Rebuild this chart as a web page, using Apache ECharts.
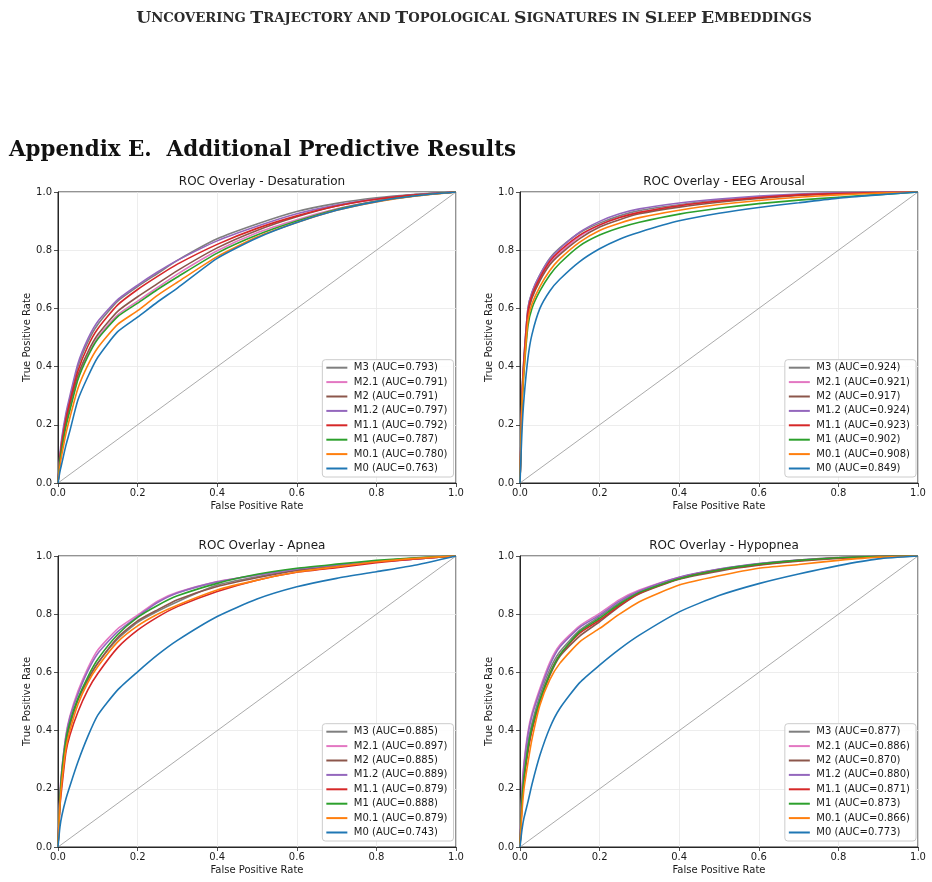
<!DOCTYPE html>
<html>
<head>
<meta charset="utf-8">
<script src="https://cdn.jsdelivr.net/npm/echarts@6/dist/echarts.min.js"></script>
<style>
html,body{margin:0;padding:0;background:#fff;}
#chart{width:932px;height:882px;}
</style>
</head>
<body>
<div id="chart"></div>
<script>
// ---------- DATA ----------
const headerText = 'Uncovering Trajectory and Topological Signatures in Sleep Embeddings';
const sectionText = 'Appendix E.  Additional Predictive Results';
const panelTitles = ['ROC Overlay - Desaturation', 'ROC Overlay - EEG Arousal', 'ROC Overlay - Apnea', 'ROC Overlay - Hypopnea'];
const models = ['M3', 'M2.1', 'M2', 'M1.2', 'M1.1', 'M1', 'M0.1', 'M0'];
const axisTicks = [0, 0.2, 0.4, 0.6, 0.8, 1.0];
const xLabel = 'False Positive Rate';
const yLabel = 'True Positive Rate';

// shared false-positive-rate grid for the read-off curves
const fpr = [0, 0.005, 0.01, 0.02, 0.03, 0.05, 0.075, 0.1, 0.15, 0.2, 0.25, 0.3, 0.4, 0.5, 0.6, 0.7, 0.8, 0.9, 1.0];

// AUC values per panel (model order as in `models`)
const aucDesat = [0.793, 0.791, 0.791, 0.797, 0.792, 0.787, 0.780, 0.763];
const aucEEG   = [0.924, 0.921, 0.917, 0.924, 0.923, 0.902, 0.908, 0.849];
const aucApnea = [0.885, 0.897, 0.885, 0.889, 0.879, 0.888, 0.879, 0.743];
const aucHypo  = [0.877, 0.886, 0.870, 0.880, 0.871, 0.873, 0.866, 0.773];

// TPR values per model (rows in `models` order) at `fpr`
const tprDesat = [
  [0, 0.09, 0.15, 0.23, 0.29, 0.40, 0.485, 0.545, 0.625, 0.675, 0.72, 0.765, 0.839, 0.89, 0.933, 0.961, 0.98, 0.992, 1],   // M3
  [0, 0.08, 0.13, 0.20, 0.26, 0.36, 0.44, 0.50, 0.578, 0.625, 0.672, 0.718, 0.798, 0.86, 0.905, 0.942, 0.97, 0.988, 1],    // M2.1
  [0, 0.08, 0.13, 0.21, 0.27, 0.37, 0.45, 0.51, 0.59, 0.64, 0.685, 0.73, 0.808, 0.868, 0.915, 0.952, 0.976, 0.991, 1],     // M2
  [0, 0.10, 0.16, 0.24, 0.30, 0.41, 0.495, 0.555, 0.63, 0.68, 0.725, 0.765, 0.832, 0.882, 0.925, 0.955, 0.976, 0.991, 1],  // M1.2
  [0, 0.09, 0.14, 0.22, 0.28, 0.385, 0.47, 0.53, 0.612, 0.665, 0.71, 0.752, 0.82, 0.875, 0.918, 0.952, 0.975, 0.99, 1],    // M1.1
  [0, 0.08, 0.12, 0.195, 0.25, 0.355, 0.435, 0.495, 0.572, 0.618, 0.665, 0.708, 0.79, 0.852, 0.90, 0.94, 0.968, 0.987, 1], // M1
  [0, 0.06, 0.10, 0.17, 0.225, 0.325, 0.405, 0.465, 0.545, 0.592, 0.645, 0.69, 0.778, 0.845, 0.895, 0.937, 0.966, 0.986, 1], // M0.1
  [0, 0.04, 0.07, 0.13, 0.18, 0.285, 0.365, 0.432, 0.52, 0.57, 0.622, 0.67, 0.772, 0.842, 0.895, 0.937, 0.967, 0.987, 1]   // M0
];
const tprEEG = [
  [0, 0.30, 0.43, 0.60, 0.655, 0.715, 0.772, 0.808, 0.86, 0.893, 0.918, 0.936, 0.956, 0.972, 0.983, 0.991, 0.996, 0.999, 1], // M3
  [0, 0.28, 0.41, 0.58, 0.64, 0.70, 0.755, 0.79, 0.848, 0.886, 0.912, 0.93, 0.953, 0.969, 0.981, 0.99, 0.995, 0.998, 1],     // M2.1
  [0, 0.28, 0.41, 0.58, 0.635, 0.695, 0.75, 0.785, 0.84, 0.88, 0.905, 0.925, 0.948, 0.965, 0.978, 0.988, 0.994, 0.998, 1],   // M2
  [0, 0.30, 0.43, 0.60, 0.655, 0.715, 0.77, 0.805, 0.862, 0.899, 0.925, 0.942, 0.962, 0.976, 0.986, 0.993, 0.997, 0.999, 1], // M1.2
  [0, 0.29, 0.42, 0.59, 0.645, 0.705, 0.762, 0.798, 0.852, 0.887, 0.912, 0.93, 0.953, 0.969, 0.981, 0.99, 0.995, 0.998, 1],  // M1.1
  [0, 0.26, 0.38, 0.54, 0.60, 0.66, 0.715, 0.755, 0.815, 0.852, 0.877, 0.896, 0.924, 0.944, 0.96, 0.972, 0.982, 0.991, 1],   // M1
  [0, 0.27, 0.39, 0.56, 0.615, 0.675, 0.73, 0.77, 0.828, 0.868, 0.893, 0.912, 0.937, 0.957, 0.971, 0.982, 0.99, 0.996, 1],   // M0.1
  [0, 0.18, 0.29, 0.43, 0.51, 0.60, 0.66, 0.70, 0.761, 0.805, 0.838, 0.862, 0.901, 0.927, 0.947, 0.963, 0.979, 0.99, 1]     // M0
];
const tprApnea = [
  [0, 0.17, 0.25, 0.36, 0.42, 0.505, 0.575, 0.632, 0.715, 0.772, 0.81, 0.843, 0.90, 0.929, 0.952, 0.966, 0.98, 0.99, 1],    // M3
  [0, 0.18, 0.27, 0.385, 0.45, 0.535, 0.615, 0.677, 0.75, 0.797, 0.845, 0.875, 0.912, 0.935, 0.955, 0.968, 0.98, 0.99, 1],  // M2.1
  [0, 0.17, 0.25, 0.36, 0.42, 0.505, 0.575, 0.632, 0.72, 0.777, 0.815, 0.85, 0.895, 0.925, 0.95, 0.967, 0.982, 0.993, 1],   // M2
  [0, 0.18, 0.27, 0.38, 0.445, 0.525, 0.605, 0.665, 0.74, 0.792, 0.84, 0.873, 0.911, 0.935, 0.955, 0.968, 0.98, 0.99, 1],   // M1.2
  [0, 0.14, 0.21, 0.327, 0.385, 0.464, 0.54, 0.596, 0.685, 0.745, 0.79, 0.826, 0.878, 0.917, 0.944, 0.96, 0.977, 0.99, 1],  // M1.1
  [0, 0.17, 0.26, 0.37, 0.43, 0.51, 0.585, 0.645, 0.73, 0.789, 0.83, 0.863, 0.906, 0.937, 0.958, 0.972, 0.985, 0.994, 1],   // M1
  [0, 0.15, 0.23, 0.34, 0.40, 0.49, 0.565, 0.62, 0.705, 0.76, 0.80, 0.831, 0.883, 0.917, 0.945, 0.963, 0.98, 0.992, 1],     // M0.1
  [0, 0.07, 0.11, 0.166, 0.21, 0.292, 0.38, 0.453, 0.54, 0.602, 0.66, 0.71, 0.792, 0.852, 0.894, 0.923, 0.946, 0.969, 1]    // M0
];
const tprHypo = [
  [0, 0.18, 0.26, 0.36, 0.425, 0.52, 0.61, 0.671, 0.745, 0.792, 0.84, 0.878, 0.925, 0.954, 0.973, 0.986, 0.995, 0.999, 1],  // M3
  [0, 0.20, 0.29, 0.396, 0.46, 0.545, 0.635, 0.694, 0.76, 0.803, 0.85, 0.883, 0.927, 0.953, 0.972, 0.985, 0.994, 0.999, 1], // M2.1
  [0, 0.16, 0.24, 0.335, 0.405, 0.50, 0.59, 0.655, 0.725, 0.774, 0.827, 0.87, 0.92, 0.948, 0.968, 0.982, 0.992, 0.998, 1],  // M2
  [0, 0.19, 0.28, 0.385, 0.45, 0.535, 0.625, 0.687, 0.755, 0.797, 0.845, 0.88, 0.927, 0.955, 0.974, 0.986, 0.994, 0.999, 1],// M1.2
  [0, 0.15, 0.23, 0.327, 0.40, 0.50, 0.595, 0.66, 0.735, 0.78, 0.83, 0.872, 0.922, 0.952, 0.97, 0.984, 0.993, 0.998, 1],    // M1.1
  [0, 0.16, 0.24, 0.34, 0.41, 0.505, 0.595, 0.66, 0.74, 0.786, 0.835, 0.875, 0.922, 0.952, 0.972, 0.985, 0.994, 0.999, 1],  // M1
  [0, 0.12, 0.20, 0.29, 0.37, 0.487, 0.575, 0.631, 0.705, 0.751, 0.80, 0.843, 0.90, 0.932, 0.958, 0.971, 0.985, 0.996, 1],  // M0.1
  [0, 0.06, 0.10, 0.155, 0.215, 0.315, 0.41, 0.476, 0.565, 0.625, 0.68, 0.728, 0.808, 0.864, 0.905, 0.938, 0.967, 0.99, 1]  // M0
];
const diagonal = [[0, 0], [1, 1]];

// ---------- STYLE ----------
const modelColors = ['#7f7f7f', '#e377c2', '#8c564b', '#9467bd', '#d62728', '#2ca02c', '#ff7f0e', '#1f77b4'];
const FONT = 'DejaVu Sans';
const TXT = '#1a1a1a';
const panels = [
  {auc: aucDesat, tpr: tprDesat, left: 58,  top: 192, legRight: 478.5, legBottom: 405},
  {auc: aucEEG,   tpr: tprEEG,   left: 520, top: 192, legRight: 16,    legBottom: 405},
  {auc: aucApnea, tpr: tprApnea, left: 58,  top: 556, legRight: 478.5, legBottom: 41},
  {auc: aucHypo,  tpr: tprHypo,  left: 520, top: 556, legRight: 16,    legBottom: 41}
];
const W = 398, H = 291;

function smallCapsRich(str) {
  let out = '';
  let curType = null, buf = '';
  const flush = () => { if (buf) out += '{' + curType + '|' + buf + '}'; buf = ''; };
  for (const ch of str) {
    const t = (ch !== ' ' && ch === ch.toUpperCase()) ? 'b' : 's';
    if (t !== curType) { flush(); curType = t; }
    buf += ch.toUpperCase();
  }
  flush();
  return out;
}

const grids = [], xAxes = [], yAxes = [], series = [], legends = [];
const titles = [
  {
    text: smallCapsRich(headerText), left: 469, top: 4, textAlign: 'center',
    textStyle: {
      rich: {
        b: {fontFamily: 'DejaVu Serif', fontSize: 17.3, color: '#2a2a2a', lineHeight: 20},
        s: {fontFamily: 'DejaVu Serif', fontSize: 13.2, color: '#2a2a2a', lineHeight: 20}
      }
    }
  },
  {
    text: sectionText, left: 4, top: 135,
    textStyle: {fontFamily: 'DejaVu Serif', fontWeight: 'bold', fontSize: 21.4, color: '#111'}
  }
];

panels.forEach((p, i) => {
  grids.push({left: p.left, top: p.top, width: W, height: H, show: true, borderColor: '#262626', borderWidth: 1, backgroundColor: 'transparent', containLabel: false});
  titles.push({
    text: panelTitles[i], left: p.left + W / 2, top: p.top - 21, textAlign: 'center',
    textStyle: {fontFamily: FONT, fontSize: 12, fontWeight: 'normal', color: TXT}
  });
  const common = {
    type: 'value', min: 0, max: 1, interval: 0.2, gridIndex: i,
    axisLine: {show: true, onZero: false, lineStyle: {color: '#262626', width: 1}},
    axisTick: {show: true, inside: false, length: 4, lineStyle: {color: '#262626', width: 0.8}},
    splitLine: {show: true, lineStyle: {color: '#e8e8e8', width: 0.8}},
    nameLocation: 'middle',
    nameTextStyle: {fontFamily: FONT, fontSize: 10, color: TXT}
  };
  xAxes.push(Object.assign({}, common, {
    name: xLabel, nameGap: 18,
    axisLabel: {fontFamily: FONT, fontSize: 10, color: TXT, margin: 5, formatter: v => v.toFixed(1), showMinLabel: true, showMaxLabel: true}
  }));
  yAxes.push(Object.assign({}, common, {
    name: yLabel, nameGap: 26,
    axisLabel: {fontFamily: FONT, fontSize: 10, color: TXT, margin: 6, formatter: v => v.toFixed(1), showMinLabel: true, showMaxLabel: true}
  }));
  series.push({
    type: 'line', xAxisIndex: i, yAxisIndex: i, data: diagonal, symbol: 'none', silent: true,
    lineStyle: {color: '#a0a0a0', width: 0.9}, z: 1
  });
  const names = [];
  models.forEach((m, k) => {
    const name = m + ' (AUC=' + p.auc[k].toFixed(3) + ')';
    names.push(name);
    series.push({
      type: 'line', name: name, xAxisIndex: i, yAxisIndex: i,
      data: fpr.map((x, j) => [x, p.tpr[k][j]]),
      symbol: 'none', smooth: 0.2,
      lineStyle: {color: modelColors[k], width: 1.6},
      itemStyle: {color: modelColors[k]},
      z: 2 + k
    });
  });
  legends.push({
    data: names, orient: 'vertical', right: p.legRight, bottom: p.legBottom,
    icon: 'rect', itemWidth: 21, itemHeight: 2, itemGap: 3.4,
    padding: [2.5, 6, 3, 4],
    backgroundColor: 'rgba(255,255,255,0.85)', borderColor: '#cccccc', borderWidth: 1, borderRadius: 3,
    textStyle: {fontFamily: FONT, fontSize: 10, color: TXT, lineHeight: 11, padding: [0, 0, 0, 1.5]},
    selectedMode: false
  });
});

const chart = echarts.init(document.getElementById('chart'), null, {renderer: 'canvas'});
chart.setOption({
  animation: false,
  backgroundColor: '#ffffff',
  title: titles,
  grid: grids,
  xAxis: xAxes,
  yAxis: yAxes,
  legend: legends,
  series: series
});
</script>
</body>
</html>
